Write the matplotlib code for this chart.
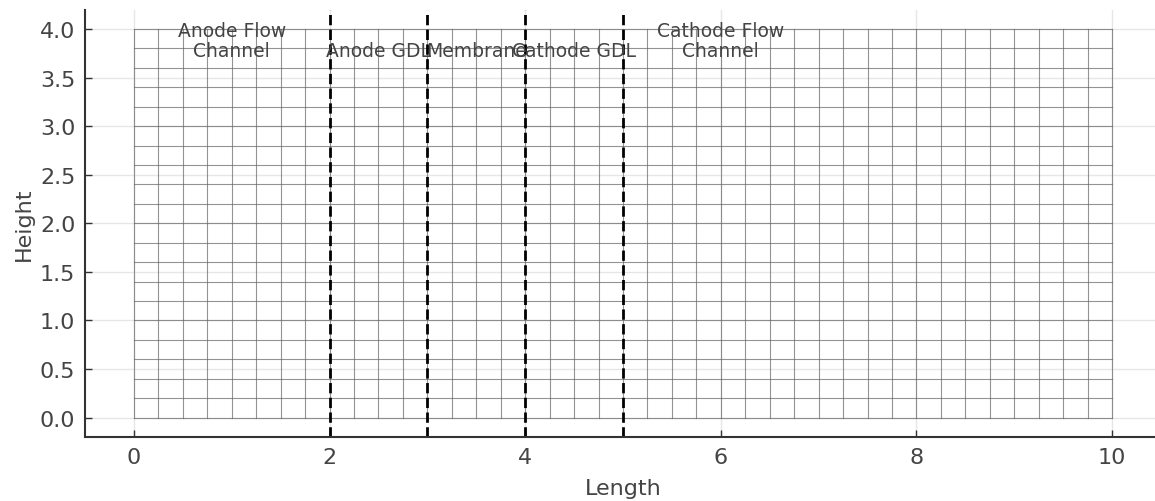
import numpy as np
import matplotlib
matplotlib.use("Agg")
import matplotlib.pyplot as plt

# Domain and mesh
length = 10.0
height = 4.0
nx_cells = 40
ny_cells = 20

# Region boundaries and labels
boundaries = [2, 3, 4, 5]
region_labels = ["Anode Flow\nChannel", "Anode GDL", "Membrane", "Cathode GDL", "Cathode Flow\nChannel"]
region_label_x = [1, 2.5, 3.5, 4.5, 6]
label_y = 3.68

xticks = [0, 2, 4, 6, 8, 10]
yticks = [0.0, 0.5, 1.0, 1.5, 2.0, 2.5, 3.0, 3.5, 4.0]

text_color = "#444444"
plt.rcParams["font.family"] = "DejaVu Sans"

fig = plt.figure(figsize=(11.55, 5.02), dpi=100)
ax = fig.add_axes([85 / 1155, 64 / 502, (1161 - 85) / 1155, (438 - 10.6) / 502])

x = np.linspace(0, length, nx_cells + 1)
y = np.linspace(0, height, ny_cells + 1)
X, Y = np.meshgrid(x, y)

ax.plot(X, Y, color="#666666", lw=0.8, alpha=0.7)
ax.plot(X.T, Y.T, color="#666666", lw=0.8, alpha=0.7)

for b in boundaries:
    ax.axvline(b, color="black", linestyle="--", lw=2)

for lx, lab in zip(region_label_x, region_labels):
    ax.text(lx, label_y, lab, ha="center", va="bottom", fontsize=13.5, color=text_color,
            multialignment="center", linespacing=1.1)

ax.set_xlim(-0.5, 10.5)
ax.set_ylim(-0.2, 4.2)
ax.set_xticks(xticks)
ax.set_yticks(yticks)
ax.set_xticklabels([str(v) for v in xticks])
ax.set_yticklabels([f"{v:.1f}" for v in yticks])
ax.tick_params(direction="in", length=5, width=1, labelsize=16, labelcolor=text_color,
               color="#333333", pad=7)
ax.grid(True, color="#e6e6e6", lw=1)
ax.set_axisbelow(True)
for s in ["top", "right"]:
    ax.spines[s].set_visible(False)
for s in ["left", "bottom"]:
    ax.spines[s].set_color("#333333")
    ax.spines[s].set_linewidth(1.5)

ax.set_xlabel("Length", fontsize=16, color=text_color, labelpad=8)
ax.set_ylabel("Height", fontsize=16, color=text_color, labelpad=4)

fig.savefig("out.png", dpi=100)
